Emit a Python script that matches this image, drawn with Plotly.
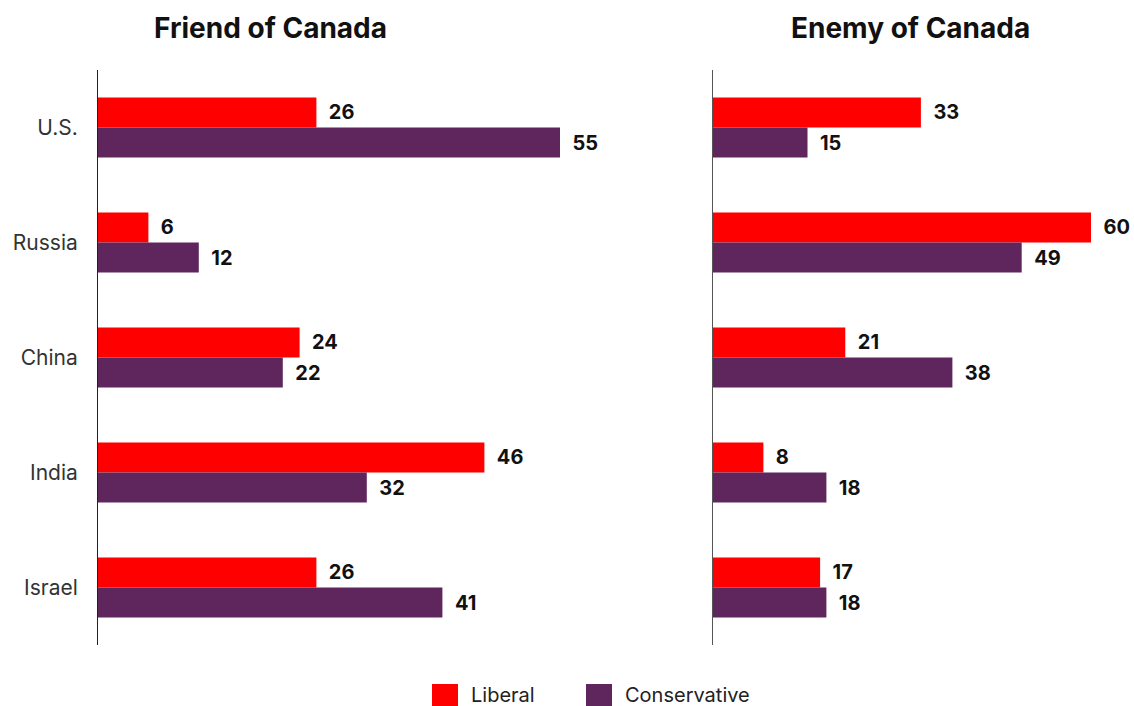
import plotly.graph_objects as go

countries = ["U.S.", "Russia", "China", "India", "Israel"]
friend_liberal = [26, 6, 24, 46, 26]
friend_conservative = [55, 12, 22, 32, 41]
enemy_liberal = [33, 60, 21, 8, 17]
enemy_conservative = [15, 49, 38, 18, 18]
series_names = ["Liberal", "Conservative"]
panel_titles = ["Friend of Canada", "Enemy of Canada"]

RED = "#ff0000"
PURPLE = "#5e265c"
FONT = "Inter"
W, H = 1134, 706

fig = go.Figure()

def add_bar(x, name, color, xaxis, yaxis):
    fig.add_trace(go.Bar(
        x=x, y=countries, name=name, orientation="h",
        marker=dict(color=color, line=dict(width=0)),
        text=x, texttemplate="  %{x}", textposition="outside",
        textfont=dict(family=FONT, size=20, color="#111111", weight="bold"),
        cliponaxis=False, showlegend=False,
        xaxis=xaxis, yaxis=yaxis, hoverinfo="skip",
    ))

add_bar(friend_liberal, series_names[0], RED, "x", "y")
add_bar(friend_conservative, series_names[1], PURPLE, "x", "y")
add_bar(enemy_liberal, series_names[0], RED, "x2", "y2")
add_bar(enemy_conservative, series_names[1], PURPLE, "x2", "y2")

ydom = [(H - 645) / H, (H - 70) / H]
fig.update_layout(
    width=W, height=H,
    margin=dict(l=0, r=0, t=0, b=0),
    paper_bgcolor="white", plot_bgcolor="white",
    barmode="group", bargap=0.478, bargroupgap=0,
    font=dict(family=FONT, color="#222222"),
    xaxis=dict(domain=[98 / W, 602 / W], range=[0, 60], visible=False, fixedrange=True),
    xaxis2=dict(domain=[713 / W, 1130 / W], range=[0, 417 / 6.3], visible=False, fixedrange=True),
    yaxis=dict(domain=ydom, anchor="x", autorange="reversed", showline=True,
               linecolor="#222222", linewidth=1, showgrid=False, zeroline=False,
               ticks="", ticklabelstandoff=15, fixedrange=True,
               tickfont=dict(family=FONT, size=21, color="#333333")),
    yaxis2=dict(domain=ydom, anchor="x2", autorange="reversed", showline=True,
                linecolor="#555555", linewidth=1, showgrid=False, zeroline=False,
                showticklabels=False, ticks="", fixedrange=True),
)

# panel titles
for title, cx in zip(panel_titles, [270, 910]):
    fig.add_annotation(text=title, x=cx / W, y=1 - 28 / H, xref="paper", yref="paper",
                       showarrow=False, xanchor="center", yanchor="middle",
                       font=dict(family=FONT, size=28, color="#111111", weight="bold"))

# legend
legend_items = [(series_names[0], RED, 432), (series_names[1], PURPLE, 586)]
for name, color, x0 in legend_items:
    fig.add_shape(type="rect", xref="paper", yref="paper",
                  x0=x0 / W, x1=(x0 + 26) / W, y0=1 - 708 / H, y1=1 - 684 / H,
                  fillcolor=color, line=dict(width=0))
    fig.add_annotation(text=name, x=(x0 + 37) / W, y=1 - 695 / H, xref="paper", yref="paper",
                       showarrow=False, xanchor="left", yanchor="middle",
                       font=dict(family=FONT, size=20, color="#222222"))

fig.write_html("out.html", config={"displayModeBar": False},
               post_script="document.body.style.margin='0';document.body.style.overflow='hidden';")
